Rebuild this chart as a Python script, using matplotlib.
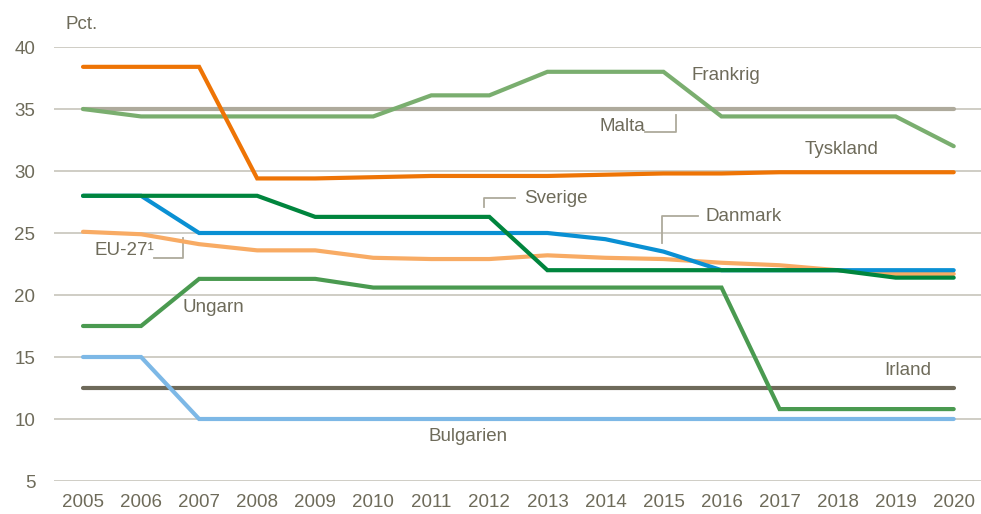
import matplotlib
matplotlib.use("Agg")
import matplotlib.pyplot as plt

# ── Data ──────────────────────────────────────────────────────────────────────
years = list(range(2005, 2021))

malta     = [35.0] * 16
frankrig  = [35.0, 34.4, 34.4, 34.4, 34.4, 34.4, 36.1, 36.1, 38.0, 38.0, 38.0, 34.4, 34.4, 34.4, 34.4, 32.0]
tyskland  = [38.4, 38.4, 38.4, 29.4, 29.4, 29.5, 29.6, 29.6, 29.6, 29.7, 29.8, 29.8, 29.9, 29.9, 29.9, 29.9]
eu27      = [25.1, 24.9, 24.1, 23.6, 23.6, 23.0, 22.9, 22.9, 23.2, 23.0, 22.9, 22.6, 22.4, 22.0, 21.7, 21.7]
danmark   = [28.0, 28.0, 25.0, 25.0, 25.0, 25.0, 25.0, 25.0, 25.0, 24.5, 23.5, 22.0, 22.0, 22.0, 22.0, 22.0]
sverige   = [28.0, 28.0, 28.0, 28.0, 26.3, 26.3, 26.3, 26.3, 22.0, 22.0, 22.0, 22.0, 22.0, 22.0, 21.4, 21.4]
ungarn    = [17.5, 17.5, 21.3, 21.3, 21.3, 20.6, 20.6, 20.6, 20.6, 20.6, 20.6, 20.6, 10.8, 10.8, 10.8, 10.8]
irland    = [12.5] * 16
bulgarien = [15.0, 15.0, 10.0, 10.0, 10.0, 10.0, 10.0, 10.0, 10.0, 10.0, 10.0, 10.0, 10.0, 10.0, 10.0, 10.0]

yticks = [5, 10, 15, 20, 25, 30, 35, 40]

TXT = "#6E6B5A"
GRID = "#CBC9C0"
LEAD = "#AEAA9C"

plt.rcParams["font.family"] = ["Liberation Sans", "DejaVu Sans"]

fig = plt.figure(figsize=(9.81, 5.14), dpi=100)
ax = fig.add_axes([54 / 981, 1 - 481 / 514, 927 / 981, 434 / 514])

series = [
    (malta, "#AEAA9C"),
    (frankrig, "#7AAE6F"),
    (tyskland, "#EE7405"),
    (irland, "#6E6A5A"),
    (bulgarien, "#7DB8E6"),
    (ungarn, "#4A9A50"),
    (eu27, "#F8AB64"),
    (danmark, "#0A90D3"),
    (sverige, "#00853D"),
]
for vals, col in series:
    ax.plot(years, vals, color=col, lw=3.0, solid_capstyle="round",
            solid_joinstyle="miter", clip_on=False, zorder=3)

ax.set_xlim(2004.5, 2020.47)
ax.set_ylim(5, 40)
ax.set_yticks(yticks)
ax.set_xticks(years)
ax.grid(axis="y", color=GRID, lw=1.3, zorder=1)
ax.grid(axis="x", visible=False)
for s in ax.spines.values():
    s.set_visible(False)
ax.tick_params(axis="both", length=0, labelsize=13.5, colors=TXT)
ax.tick_params(axis="y", pad=13.5)
ax.tick_params(axis="x", pad=9.5)

fs = 13.5
ax.text(2004.69, 41.8, "Pct.", color=TXT, fontsize=fs, va="center", ha="left", clip_on=False)
ax.text(2015.49, 37.7, "Frankrig", color=TXT, fontsize=fs, va="center")
ax.text(2017.43, 31.7, "Tyskland", color=TXT, fontsize=fs, va="center")
ax.text(2013.9, 33.6, "Malta", color=TXT, fontsize=fs, va="center")
ax.text(2012.6, 27.8, "Sverige", color=TXT, fontsize=fs, va="center")
ax.text(2015.73, 26.3, "Danmark", color=TXT, fontsize=fs, va="center")
ax.text(2005.2, 23.6, "EU-27¹", color=TXT, fontsize=fs, va="center")
ax.text(2006.72, 19.0, "Ungarn", color=TXT, fontsize=fs, va="center")
ax.text(2010.96, 8.55, "Bulgarien", color=TXT, fontsize=fs, va="center")
ax.text(2018.8, 13.95, "Irland", color=TXT, fontsize=fs, va="center")

# connector brackets
ax.plot([2014.68, 2015.21, 2015.21], [33.15, 33.15, 34.5], color=LEAD, lw=1.3, zorder=2)
ax.plot([2011.9, 2011.9, 2012.44], [27.1, 27.8, 27.8], color=LEAD, lw=1.3, zorder=2)
ax.plot([2014.97, 2014.97, 2015.6], [24.2, 26.37, 26.37], color=LEAD, lw=1.3, zorder=2)
ax.plot([2006.22, 2006.72, 2006.72], [23.0, 23.0, 24.6], color=LEAD, lw=1.3, zorder=2)

fig.savefig("out.png", dpi=100)
